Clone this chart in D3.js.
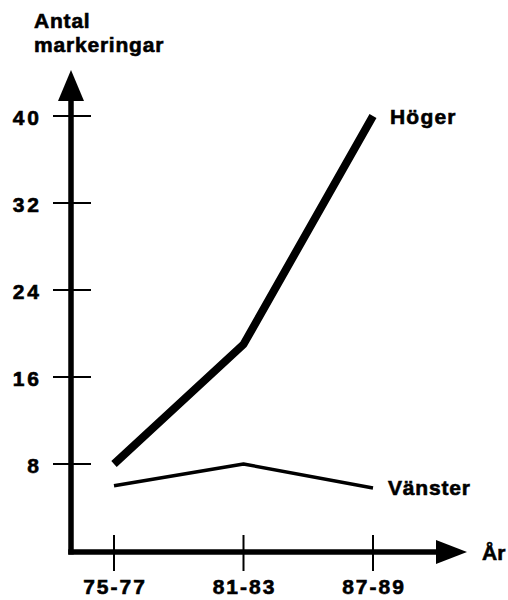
<!DOCTYPE html>
<html><head><meta charset="utf-8">
<script src="https://cdn.jsdelivr.net/npm/d3@7"></script>
<style>body{margin:0;background:#fff}svg{display:block}text{font-family:"Liberation Sans",Arial,Helvetica,sans-serif;font-weight:bold;fill:#000;stroke:#000;stroke-width:0.6px}</style>
</head><body>
<script>
const categories = ["75-77", "81-83", "87-89"];
const hoger = [8, 19, 40];
const vanster = [6, 8, 5.8];
const yTicks = [8, 16, 24, 32, 40];

const W = 508, H = 600;
const svg = d3.select("body").append("svg").attr("width", W).attr("height", H);
const x = d3.scalePoint().domain(categories).range([114, 373]);
const y = d3.scaleLinear().domain([0, 40]).range([551, 116]);
const x0 = 71, y0 = y(0) + 1;

// axes lines
svg.append("line").attr("x1", x0).attr("x2", x0).attr("y1", y0 + 2.5).attr("y2", 98)
  .attr("stroke", "#000").attr("stroke-width", 5.5);
svg.append("path").attr("d", `M${x0},70 L${x0 - 13},101 L${x0 + 13},101 Z`).attr("fill", "#000");
svg.append("line").attr("x1", x0 - 2.75).attr("x2", 440).attr("y1", y0).attr("y2", y0)
  .attr("stroke", "#000").attr("stroke-width", 5.5);
svg.append("path").attr("d", `M467,${y0} L436,${y0 - 12} L436,${y0 + 12} Z`).attr("fill", "#000");

// y ticks
const yAxis = svg.append("g");
yTicks.forEach(t => {
  yAxis.append("line").attr("x1", 53).attr("x2", 91).attr("y1", y(t)).attr("y2", y(t))
    .attr("stroke", "#000").attr("stroke-width", 2);
  yAxis.append("text").attr("x", 42).attr("y", y(t) + 9)
    .attr("text-anchor", "end").attr("font-size", 21).attr("letter-spacing", 3).text(t);
});
// x ticks
categories.forEach(c => {
  svg.append("line").attr("x1", x(c)).attr("x2", x(c)).attr("y1", 535).attr("y2", 571)
    .attr("stroke", "#000").attr("stroke-width", 2);
  svg.append("text").attr("x", x(c) + 1).attr("y", 594).attr("text-anchor", "middle")
    .attr("font-size", 21).attr("letter-spacing", 2).text(c);
});

// titles
svg.append("text").attr("x", 34).attr("y", 28).attr("font-size", 21).attr("letter-spacing", 0.8).text("Antal");
svg.append("text").attr("x", 34).attr("y", 52).attr("font-size", 21).attr("letter-spacing", 0.8).text("markeringar");
svg.append("text").attr("x", 482).attr("y", 560).attr("font-size", 21).text("År");

const line = d3.line().x((d, i) => x(categories[i])).y(d => y(d));
svg.append("path").datum(hoger).attr("d", line).attr("fill", "none")
  .attr("stroke", "#000").attr("stroke-width", 8).attr("stroke-linejoin", "round");
svg.append("path").datum(vanster).attr("d", line).attr("fill", "none")
  .attr("stroke", "#000").attr("stroke-width", 3.5).attr("stroke-linejoin", "round");

svg.append("text").attr("x", 390).attr("y", 124).attr("font-size", 21).attr("letter-spacing", 1.2).text("Höger");
svg.append("text").attr("x", 388).attr("y", 495).attr("font-size", 21).attr("letter-spacing", 0.8).text("Vänster");
</script>
</body></html>
